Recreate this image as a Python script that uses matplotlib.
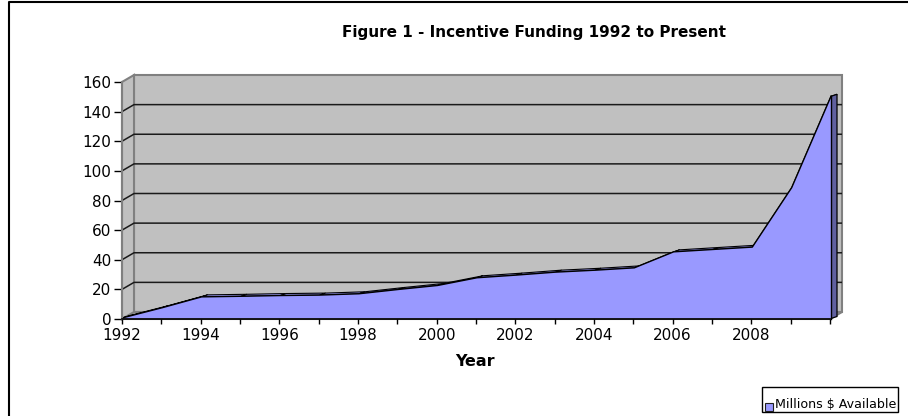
import matplotlib
matplotlib.use("Agg")
import matplotlib.pyplot as plt
from matplotlib.patches import Polygon, Rectangle
from matplotlib.lines import Line2D

# ---------------- data ----------------
years = list(range(1992, 2011))
funding = [0.5, 7.3, 14.6, 15.0, 15.5, 15.8, 16.7, 19.6, 22.3, 27.5,
           29.3, 31.3, 32.6, 34.2, 45.0, 46.6, 48.2, 88.3, 150.0]
label_years = list(range(1992, 2009, 2))
y_ticks = list(range(0, 161, 20))
title_text = "Figure 1 - Incentive Funding 1992 to Present"
x_title = "Year"
series_name = "Millions $ Available"

# ---------------- style ----------------
AREA = "#9999FF"
ROOF = "#A3A3FF"
END = "#60609F"
WALL = "#C0C0C0"
WALL_EDGE = "#808080"

plt.rcParams["font.family"] = ["DejaVu Sans"]

W, H = 908, 416
fig = plt.figure(figsize=(W / 100, H / 100), dpi=100)


def fx(px):
    return px / W


def fy(py):
    return 1 - py / H


X_FIRST, X_LAST = 122.0, 830.0
Y_ZERO, Y_TOP = 319.0, 82.0
ax = fig.add_axes([fx(X_FIRST), fy(Y_ZERO), (X_LAST - X_FIRST) / W, (Y_ZERO - Y_TOP) / H])
ax.set_xlim(years[0], years[-1])
ax.set_ylim(y_ticks[0], y_ticks[-1])
ax.patch.set_visible(False)

# pixel -> data-unit conversion for the 3D depth offsets
ux = (years[-1] - years[0]) / (X_LAST - X_FIRST)
uy = (y_ticks[-1] - y_ticks[0]) / (Y_ZERO - Y_TOP)
WALL_DX, WALL_DY = 12 * ux, 7 * uy
FRONT_DX, FRONT_DY = 1 * ux, 0.5 * uy
BACK_DX, BACK_DY = 7 * ux, 2.5 * uy

x0, x1 = years[0], years[-1]
y0, y1 = y_ticks[0], y_ticks[-1]

wall_kw = dict(facecolor=WALL, edgecolor=WALL_EDGE, linewidth=1.5, clip_on=False)
# back wall
ax.add_patch(Rectangle((x0 + WALL_DX, y0 + WALL_DY), x1 - x0, y1 - y0, zorder=0.4, **wall_kw))
# floor
ax.add_patch(Polygon([(x0, y0), (x1, y0), (x1 + WALL_DX, y0 + WALL_DY), (x0 + WALL_DX, y0 + WALL_DY)],
                     zorder=0.5, **wall_kw))
# left side wall
ax.add_patch(Polygon([(x0, y0), (x0, y1), (x0 + WALL_DX, y1 + WALL_DY), (x0 + WALL_DX, y0 + WALL_DY)],
                     zorder=0.5, **wall_kw))
# gridlines (side wall + back wall)
for v in y_ticks[1:-1]:
    ax.plot([x0, x0 + WALL_DX, x1 + WALL_DX], [v, v + WALL_DY, v + WALL_DY],
            color="#1a1a1a", lw=1.1, zorder=0.6, clip_on=False, solid_capstyle="butt")

# ---------------- 3D area ----------------
fxs = [x + FRONT_DX for x in years]
fys = [v + FRONT_DY for v in funding]
bxs = [x + BACK_DX for x in years]
bys = [v + BACK_DY for v in funding]
base_f = y0 + FRONT_DY
base_b = y0 + BACK_DY

ax.fill_between(bxs, base_b, bys, facecolor=AREA, edgecolor="none", zorder=1, clip_on=False)
for i in range(len(years) - 1):
    ax.add_patch(Polygon([(fxs[i], fys[i]), (fxs[i + 1], fys[i + 1]),
                          (bxs[i + 1], bys[i + 1]), (bxs[i], bys[i])],
                         facecolor=ROOF, edgecolor="black", lw=0.8, zorder=2, clip_on=False))
ax.add_patch(Polygon([(fxs[-1], base_f), (fxs[-1], fys[-1]), (bxs[-1], bys[-1]), (bxs[-1], base_b)],
                     facecolor=END, edgecolor="black", lw=0.9, zorder=2.1, clip_on=False))
ax.fill_between(fxs, base_f, fys, facecolor=AREA, edgecolor="none", zorder=3, clip_on=False)
ax.plot(fxs, fys, color="black", lw=1.0, zorder=3.5, clip_on=False)
ax.plot([fxs[-1], fxs[-1]], [base_f, fys[-1]], color="black", lw=1.0, zorder=3.5, clip_on=False)

# ---------------- axes ----------------
for s in ("top", "right"):
    ax.spines[s].set_visible(False)
ax.spines["left"].set_color(WALL_EDGE)
ax.spines["left"].set_linewidth(1.5)
ax.spines["bottom"].set_color("black")
ax.spines["bottom"].set_linewidth(1.2)
for s in ("left", "bottom"):
    ax.spines[s].set_zorder(4)

ax.set_yticks(y_ticks)
ax.set_yticklabels([str(v) for v in y_ticks])
ax.set_xticks(years)
ax.set_xticklabels([str(y) if y in label_years else "" for y in years])
ax.tick_params(axis="y", direction="out", length=6, width=1, pad=1.5, labelsize=11, color="black")
ax.tick_params(axis="x", direction="out", length=3.6, width=1, pad=3, labelsize=11, color="black")

# ---------------- texts ----------------
fig.text(fx(534), fy(33), title_text, ha="center", va="center", fontsize=11, fontweight="bold")
fig.text(fx(475), fy(362), x_title, ha="center", va="center", fontsize=11.5, fontweight="bold")

# legend
fig.add_artist(Rectangle((fx(762), fy(412)), fx(898) - fx(762), (412 - 387) / H,
                         transform=fig.transFigure, fill=False, edgecolor="black", lw=1))
fig.add_artist(Rectangle((fx(765), fy(410.5)), 8 / W, 8 / H, transform=fig.transFigure,
                         facecolor=AREA, edgecolor="#202020", lw=0.8))
fig.text(fx(775), fy(408.3), series_name, ha="left", va="baseline", fontsize=9.1)

# chart border
fig.add_artist(Line2D([fx(9), fx(9), 1], [0, fy(2), fy(2)], transform=fig.transFigure,
                      color="black", lw=1.5))

fig.savefig("out.png", dpi=100)
